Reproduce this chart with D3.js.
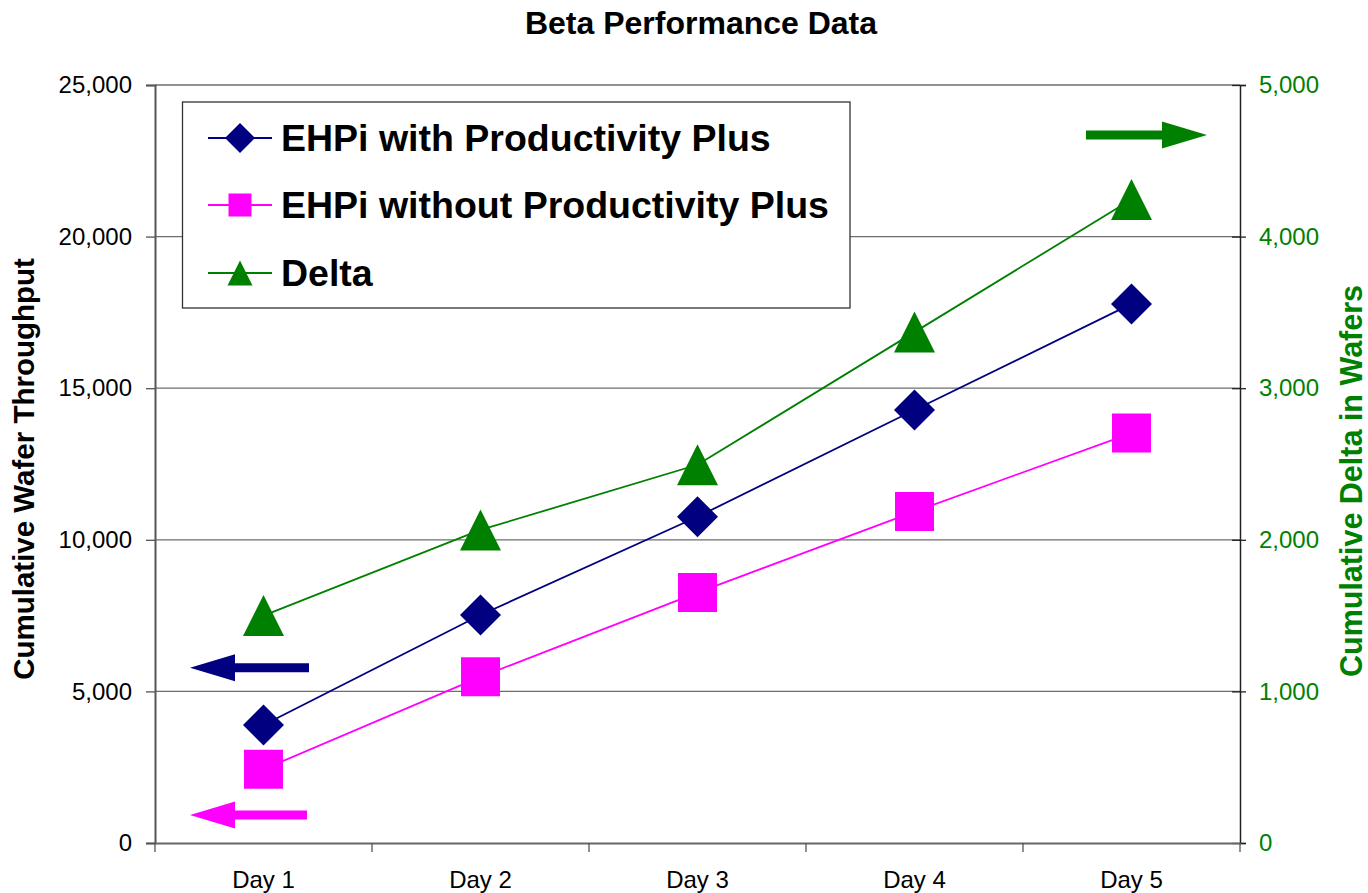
<!DOCTYPE html>
<html>
<head>
<meta charset="utf-8">
<script src="https://cdn.jsdelivr.net/npm/d3@7"></script>
<style>
  body { margin: 0; background: #fff; }
  text { font-family: "Liberation Sans", Arial, sans-serif; }
</style>
</head>
<body>
<svg id="chart"></svg>
<script>
let width = 1368;
let height = 893;

// chart data
let days = ["Day 1", "Day 2", "Day 3", "Day 4", "Day 5"];
let withPlus = [3890, 7520, 10760, 14280, 17780];
let withoutPlus = [2430, 5480, 8260, 10930, 13520];
let delta = [1500, 2065, 2495, 3370, 4245];
let leftTicks = [0, 5000, 10000, 15000, 20000, 25000];
let rightTicks = [0, 1000, 2000, 3000, 4000, 5000];

let navy = "#000080";
let pink = "#FF00FF";
let green = "#008000";

let plot = { left: 155, right: 1240, top: 85, bottom: 843 };

let svg = d3.select("#chart")
    .attr("width", width)
    .attr("height", height);

let x = d3.scaleBand()
    .domain(days)
    .range([plot.left, plot.right]);

let yLeft = d3.scaleLinear()
    .domain([0, 25000])
    .range([plot.bottom, plot.top]);

let yRight = d3.scaleLinear()
    .domain([0, 5000])
    .range([plot.bottom, plot.top]);

let fmt = d3.format(",");

// gridlines
svg.append("g")
    .selectAll("line")
    .data(leftTicks.slice(1))
    .enter()
    .append("line")
    .attr("x1", plot.left)
    .attr("x2", plot.right)
    .attr("y1", d => yLeft(d))
    .attr("y2", d => yLeft(d))
    .attr("stroke", "#6e6e6e")
    .attr("stroke-width", 1.3);

// left axis
let leftAxis = svg.append("g")
    .attr("transform", `translate(${plot.left},0)`)
    .call(d3.axisLeft(yLeft).tickValues(leftTicks).tickFormat(fmt).tickSize(9).tickPadding(14));
leftAxis.select(".domain").attr("stroke", "#555").attr("stroke-width", 2);
leftAxis.selectAll(".tick line").attr("stroke", "#555").attr("stroke-width", 1.3);
leftAxis.selectAll("text").style("font-size", "24px").attr("fill", "#000");

// right axis
let rightAxis = svg.append("g")
    .attr("transform", `translate(${plot.right},0)`)
    .call(d3.axisRight(yRight).tickValues(rightTicks).tickFormat(fmt).tickSize(6).tickPadding(13));
rightAxis.select(".domain").attr("stroke", "#222").attr("stroke-width", 1.5);
rightAxis.selectAll(".tick line").attr("x1", -8).attr("stroke", "#222").attr("stroke-width", 1.3);
rightAxis.selectAll("text").style("font-size", "24px").attr("fill", green);

// bottom axis
let bottomAxis = svg.append("g")
    .attr("transform", `translate(0,${plot.bottom})`)
    .call(d3.axisBottom(x).tickSize(0).tickPadding(28));
bottomAxis.select(".domain").attr("stroke", "#666").attr("stroke-width", 2);
bottomAxis.selectAll("text").style("font-size", "24px").attr("fill", "#000");
bottomAxis.selectAll(".boundary")
    .data(d3.range(days.length + 1))
    .enter()
    .append("line")
    .attr("class", "boundary")
    .attr("x1", i => plot.left + i * x.bandwidth())
    .attr("x2", i => plot.left + i * x.bandwidth())
    .attr("y1", 0)
    .attr("y2", 9)
    .attr("stroke", "#555")
    .attr("stroke-width", 1.3);

// markers
let diamond = s => `M0,${-s}L${s},0L0,${s}L${-s},0Z`;
let square = s => `M${-s},${-s}H${s}V${s}H${-s}Z`;
let triangle = s => `M0,${-s}L${s},${s}L${-s},${s}Z`;

let series = [
    { name: "EHPi with Productivity Plus", values: withPlus, scale: yLeft, color: navy, shape: diamond, size: 20.5, legendSize: 15 },
    { name: "EHPi without Productivity Plus", values: withoutPlus, scale: yLeft, color: pink, shape: square, size: 19.5, legendSize: 11.5 },
    { name: "Delta", values: delta, scale: yRight, color: green, shape: triangle, size: 20.5, legendSize: 12.5 }
];

for (const s of series) {
    let pts = s.values.map((v, i) => [x(days[i]) + x.bandwidth() / 2, s.scale(v)]);
    svg.append("path")
        .attr("d", d3.line()(pts))
        .attr("fill", "none")
        .attr("stroke", s.color)
        .attr("stroke-width", 1.8);
    svg.append("g")
        .selectAll("path")
        .data(pts)
        .enter()
        .append("path")
        .attr("transform", d => `translate(${d[0]},${d[1]})`)
        .attr("d", s.shape(s.size))
        .attr("fill", s.color);
}

// axis direction arrows
function arrow(tipX, tailX, y, color, dir) {
    let headLen = 45, half = 13.5, shaft = 4.5;
    let hx = tipX - dir * headLen;
    let p = `M${tipX},${y}L${hx},${y - half}V${y - shaft}H${tailX}V${y + shaft}H${hx}V${y + half}Z`;
    svg.append("path").attr("d", p).attr("fill", color);
}
arrow(190, 309, yLeft(5780), navy, -1);
arrow(190, 307, yLeft(920), pink, -1);
arrow(1207, 1086, yRight(4670), green, 1);

// legend
let legend = svg.append("g");
legend.append("rect")
    .attr("x", 182.5)
    .attr("y", 102)
    .attr("width", 667.5)
    .attr("height", 206)
    .attr("fill", "#fff")
    .attr("stroke", "#333")
    .attr("stroke-width", 1.3);

let rowY = [138, 205, 273];
series.forEach((s, i) => {
    let g = legend.append("g").attr("transform", `translate(0,${rowY[i]})`);
    g.append("line")
        .attr("x1", 208).attr("x2", 272)
        .attr("stroke", s.color).attr("stroke-width", 1.8);
    g.append("path")
        .attr("transform", "translate(240,0)")
        .attr("d", s.shape(s.legendSize))
        .attr("fill", s.color);
    g.append("text")
        .attr("x", 281)
        .attr("y", 12.5)
        .style("font-size", "37.5px")
        .style("font-weight", "bold")
        .text(s.name);
});

// titles
svg.append("text")
    .attr("x", 701)
    .attr("y", 34)
    .attr("text-anchor", "middle")
    .style("font-size", "32px")
    .style("font-weight", "bold")
    .text("Beta Performance Data");

svg.append("text")
    .attr("transform", "translate(34,469) rotate(-90)")
    .attr("text-anchor", "middle")
    .style("font-size", "29.5px")
    .style("font-weight", "bold")
    .text("Cumulative Wafer Throughput");

svg.append("text")
    .attr("transform", "translate(1362,481) rotate(-90)")
    .attr("text-anchor", "middle")
    .style("font-size", "30.5px")
    .style("font-weight", "bold")
    .attr("fill", green)
    .text("Cumulative Delta in Wafers");
</script>
</body>
</html>
